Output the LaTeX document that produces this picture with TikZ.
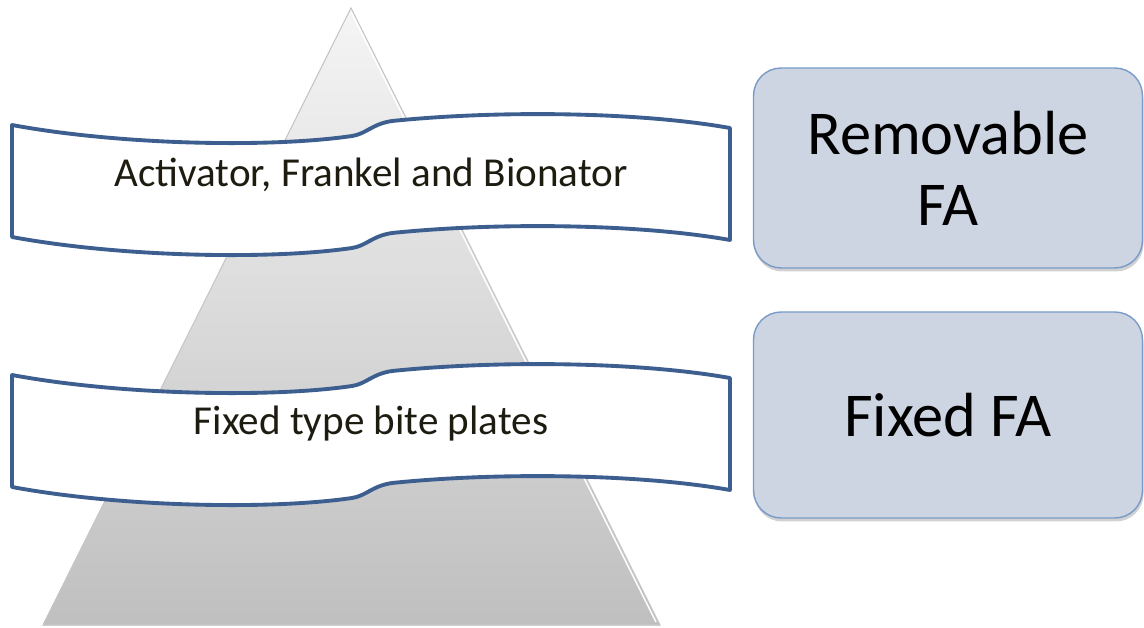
\documentclass[tikz,border=0pt]{standalone}
\usepackage{fontspec}
\setmainfont{Carlito}
\usetikzlibrary{positioning,shadows}
\definecolor{ribbonblue}{RGB}{60,95,143}
\definecolor{boxfill}{RGB}{205,212,226}
\definecolor{boxline}{RGB}{120,155,200}
\definecolor{inkdark}{RGB}{30,28,17}

\begin{document}
\begin{tikzpicture}[x=0.02cm,y=-0.02cm,
ribbon/.style={draw=ribbonblue,line width=2.2pt,fill=white,line join=round},
ribbontext/.style={anchor=base,text=inkdark,font=\fontsize{23.4}{28}\selectfont},
fabox/.style={draw=boxline,line width=0.8pt,fill=boxfill,rounded corners=0.55cm,minimum width=7.78cm,align=center,
  font=\fontsize{35.5}{40.4}\selectfont,drop shadow={shadow xshift=0.6pt,shadow yshift=-2pt,fill=black!40,opacity=0.45}}]
\useasboundingbox (0,0) rectangle (1144,628);
% pyramid
\coordinate (apex) at (351,8);
\coordinate (baseL) at (43,625);
\coordinate (baseR) at (660,625);
\fill[top color=black!4,bottom color=black!25] (apex) -- (baseR) -- (baseL) -- cycle;
\draw[black!22,line width=0.6pt] (apex) -- (baseR) -- (baseL) -- cycle;
\draw[white,line width=0.8pt] (351.5,13) -- (656,622);
% ribbons
\draw[ribbon] (12,125) .. controls (120,145) and (270,148) .. (352,136)
  .. controls (366,134) and (372,124) .. (392,121)
  .. controls (500,110) and (640,112) .. (730,128) -- (730,240)
  .. controls (640,224) and (500,222) .. (392,233)
  .. controls (372,236) and (366,246) .. (352,248)
  .. controls (270,260) and (120,257) .. (12,237) -- cycle;
\draw[ribbon,shift={(0,250)}] (12,125) .. controls (120,145) and (270,148) .. (352,136)
  .. controls (366,134) and (372,124) .. (392,121)
  .. controls (500,110) and (640,112) .. (730,128) -- (730,240)
  .. controls (640,224) and (500,222) .. (392,233)
  .. controls (372,236) and (366,246) .. (352,248)
  .. controls (270,260) and (120,257) .. (12,237) -- cycle;
\node[ribbontext] (functional) at (371,187) {Activator, Frankel and Bionator};
\node[ribbontext] (biteplates) at (371,435) {Fixed type bite plates};
% appliance groups
\node[fabox,minimum height=4cm] (removable) at (948,168) {Removable\\FA};
\node[fabox,minimum height=4.12cm] (fixed) at (948,415) {Fixed FA};
\end{tikzpicture}
\end{document}
